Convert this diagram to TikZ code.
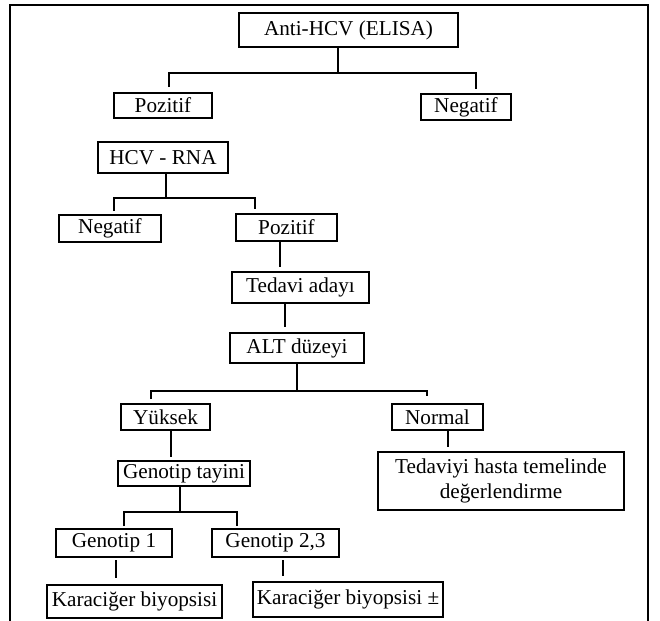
\documentclass[tikz,border=0pt]{standalone}
\usepackage{fontspec}
\setmainfont{Liberation Serif}
\usetikzlibrary{calc}

\tikzset{
  box/.style={draw, line width=1pt, inner sep=0pt, align=center,
    font=\fontsize{10.6}{12.6}\selectfont},
  boxsize/.style 2 args={minimum width=#1*0.5pt, minimum height=#2*0.5pt},
  link/.style={line width=0.8pt},
}

\begin{document}
\begin{tikzpicture}[x=0.5pt, y=-0.5pt]
    \useasboundingbox (0,0) rectangle (660,621);
    % Outer frame (open at the bottom)
    \draw[line width=1pt] (10,621) -- (10,5) -- (648,5) -- (648,621);
    % Boxes
    \node[box, boxsize={219}{34}] (anti)   at (348.5, 30)  {Anti-HCV (ELISA)};
    \node[box, boxsize={98}{25}]  (pos1)   at (163, 105.5) {Pozitif};
    \node[box, boxsize={90}{26}]  (neg1)   at (466, 107)   {Negatif};
    \node[box, boxsize={130}{31}] (hcv)    at (163, 157.5) {HCV - RNA};
    \node[box, boxsize={102}{27}] (neg2)   at (110, 228.5) {Negatif};
    \node[box, boxsize={101}{27}] (pos2)   at (286.5, 227.5) {Pozitif};
    \node[box, boxsize={137}{31}] (tedavi) at (300.5, 287.5) {Tedavi adayı};
    \node[box, boxsize={134}{30}] (alt)    at (297, 348)   {ALT düzeyi};
    \node[box, boxsize={89}{26}]  (yuksek) at (165.5, 417) {Yüksek};
    \node[box, boxsize={91}{26}]  (normal) at (437.5, 417) {Normal};
    \node[box, boxsize={246}{58}] (bireysel) at (501, 481)
        {Tedaviyi hasta temelinde\\değerlendirme};
    \node[box, boxsize={132}{25}] (genotip) at (184, 473.5) {Genotip tayini};
    \node[box, boxsize={116}{28}] (gen1)   at (114, 543)   {Genotip 1};
    \node[box, boxsize={127}{28}] (gen23)  at (275.5, 543) {Genotip 2,3};
    \node[box, boxsize={175}{33}] (biyo1)  at (134.5, 601.5) {Karaciğer biyopsisi};
    \node[box, boxsize={190}{35}] (biyo2)  at (348, 599.5) {Karaciğer biyopsisi ±};
    % Forks
    \draw[link] ($(anti.south)+(-10.5,0)$) -- ++(0,25) coordinate (f1);
    \draw[link] ($(pos1.north)+(6,-5)$) |- (f1) -| ($(neg1.north)+(10,-4)$);
    \draw[link] ($(hcv.south)+(3,0)$) -- ++(0,24) coordinate (f2);
    \draw[link] ($(neg2.north)+(4,-3)$) |- (f2) -| ($(pos2.north)+(-31.5,-4)$);
    \draw[link] ($(alt.south)$) -- ++(0,27) coordinate (f3);
    \draw[link] ($(yuksek.north)+(-14.5,-4)$) |- (f3) -| ($(normal.north)+(-10.5,-7)$);
    \draw[link] ($(genotip.south)+(-4,0)$) -- ++(0,25) coordinate (f4);
    \draw[link] ($(gen1.north)+(10,-2)$) |- (f4) -| ($(gen23.north)+(-38.5,-2)$);
    % Single links
    \draw[link] ($(pos2.south)+(-6.5,0)$) -- ($(tedavi.north)+(-20.5,-4)$);
    \draw[link] ($(tedavi.south)+(-15.5,0)$) -- ($(alt.north)+(-12,-5)$);
    \draw[link] ($(yuksek.south)+(5.5,0)$) -- ($(genotip.north)+(-13,-3)$);
    \draw[link] ($(normal.south)+(10.5,0)$) -- ($(bireysel.north)+(-53,-4)$);
    \draw[link] ($(gen1.south)+(2,2)$) -- ($(biyo1.north)+(-18.5,-6)$);
    \draw[link] ($(gen23.south)+(7.5,2)$) -- ($(biyo2.north)+(-65,-5)$);
\end{tikzpicture}
\end{document}
